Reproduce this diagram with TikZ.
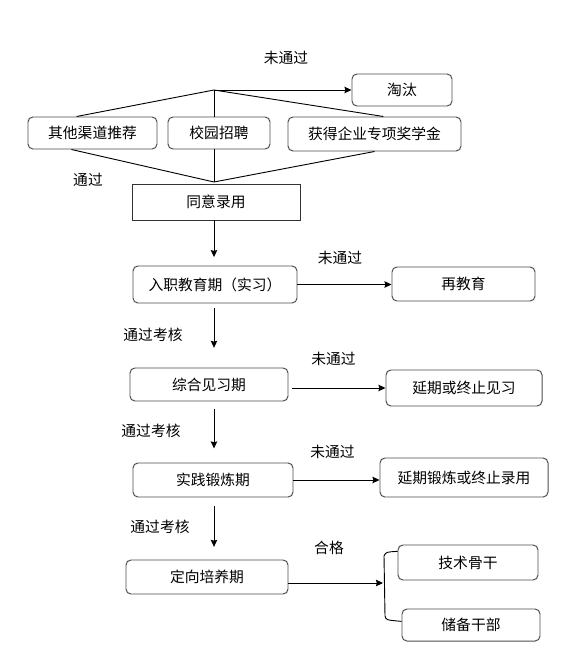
\documentclass[tikz,border=0pt]{standalone}
\usepackage{fontspec}
\usetikzlibrary{arrows.meta}
\setmainfont{Noto Sans CJK SC}
\begin{document}
\begin{tikzpicture}[
  stagebox/.style={rectangle,draw=black!70,line width=0.7pt,rounded corners=3.5pt},
  plainbox/.style={rectangle,draw=black!80,line width=0.7pt},
  every node/.style={font=\fontsize{10.5}{12}\selectfont},
  flow/.style={-{Stealth[length=5pt,width=4.6pt,inset=0.6pt]},line width=0.65pt}]
  \useasboundingbox (0,0) rectangle (14.625,-16.6);
  % draw hub and merge points
  \coordinate (hub) at(5.35,-2.25);
  \coordinate (merge) at(5.35,-4.55);
  % draw "淘汰" box
  \node at(10.05,-2.25)[stagebox,minimum height=0.8cm,minimum width=2.5cm](taotai){淘汰};
  % draw source boxes
  \node at(2.3125,-3.325)[stagebox,minimum height=0.8cm,minimum width=3.225cm](qita){其他渠道推荐};
  \node at(5.475,-3.325)[stagebox,minimum height=0.8cm,minimum width=2.55cm](xiaoyuan){校园招聘};
  \node at(9.3625,-3.35)[stagebox,minimum height=0.85cm,minimum width=4.325cm](jiangxuejin){获得企业专项奖学金};
  % draw "未通过" and "通过" text
  \node at(7.15,-1.45)(weitongguo1){未通过};
  \node at(2.2,-4.5)(tongguo){通过};
  % draw "同意录用" box
  \node at(5.4,-5.05)[plainbox,minimum height=0.9cm,minimum width=4.2cm](tongyi){同意录用};
  % draw lines from source boxes to hub and merge
  \draw [line width=0.65pt](qita.134) -- (hub) -- (jiangxuejin.63);
  \draw [line width=0.65pt](hub) -- (hub |- xiaoyuan.north);
  \draw [line width=0.65pt](qita.218) -- (merge) -- (jiangxuejin.south);
  \draw [line width=0.65pt](merge |- xiaoyuan.south) -- (merge);
  \draw [flow](hub) -- (hub -| taotai.west);
  % draw stage boxes
  \node at(5.375,-7.1125)[stagebox,minimum height=0.925cm,minimum width=4.1cm](ruzhi){入职教育期（实习）};
  \node at(5.225,-9.6125)[stagebox,minimum height=0.825cm,minimum width=3.95cm](zonghe){综合见习期};
  \node at(5.325,-12.0)[stagebox,minimum height=0.85cm,minimum width=4.0cm](shijian){实践锻炼期};
  \node at(5.175,-14.425)[stagebox,minimum height=0.85cm,minimum width=4.05cm](dingxiang){定向培养期};
  % draw outcome boxes
  \node at(11.5875,-7.1)[stagebox,minimum height=0.85cm,minimum width=3.575cm](zaijiaoyu){再教育};
  \node at(11.6,-9.7)[stagebox,minimum height=0.9cm,minimum width=3.9cm](yanqijianxi){延期或终止见习};
  \node at(11.6,-11.9375)[stagebox,minimum height=0.975cm,minimum width=4.2cm](yanqiduanlian){延期锻炼或终止录用};
  \node at(11.7,-14.0625)[stagebox,minimum height=0.875cm,minimum width=3.5cm](jishu){技术骨干};
  \node at(11.775,-15.625)[stagebox,minimum height=0.8cm,minimum width=3.45cm](chubei){储备干部};
  % draw arrow labels
  \node at(8.5,-6.45)(weitongguo2){未通过};
  \node at(3.825,-8.375)(kaohe1){通过考核};
  \node at(8.3375,-8.975)(weitongguo3){未通过};
  \node at(3.775,-10.775)(kaohe2){通过考核};
  \node at(8.3125,-11.3)(weitongguo4){未通过};
  \node at(4.0,-13.175)(kaohe3){通过考核};
  \node at(8.225,-13.7)(hege){合格};
  % draw down arrows
  \draw [flow,shorten >=6pt](tongyi.south -| hub) -- (ruzhi.north -| hub);
  \draw [flow,shorten <=3.5pt,shorten >=14pt](ruzhi.south -| hub) -- (zonghe.north -| hub);
  \draw [flow,shorten <=5pt,shorten >=10pt](zonghe.south -| hub) -- (shijian.north -| hub);
  \draw [flow,shorten <=6pt,shorten >=9pt](shijian.south -| hub) -- (dingxiang.north -| hub);
  % draw right arrows
  \draw [flow](ruzhi.east) -- (ruzhi.east -| zaijiaoyu.west);
  \draw [flow,shorten <=2.5pt](zonghe.east |- yanqijianxi.west) -- (yanqijianxi.west);
  \draw [flow](shijian.east) -- (shijian.east -| yanqiduanlian.west);
  % draw bracket and arrow to it
  \coordinate (brk) at(9.575,-14.575);
  \draw [line width=0.65pt](jishu.171) .. controls (9.65,-13.8) .. (9.6,-13.9) -- (9.625,-15.4) .. controls (9.65,-15.5) .. (chubei.177);
  \draw [flow](brk -| dingxiang.east) -- (brk);
\end{tikzpicture}
\end{document}
